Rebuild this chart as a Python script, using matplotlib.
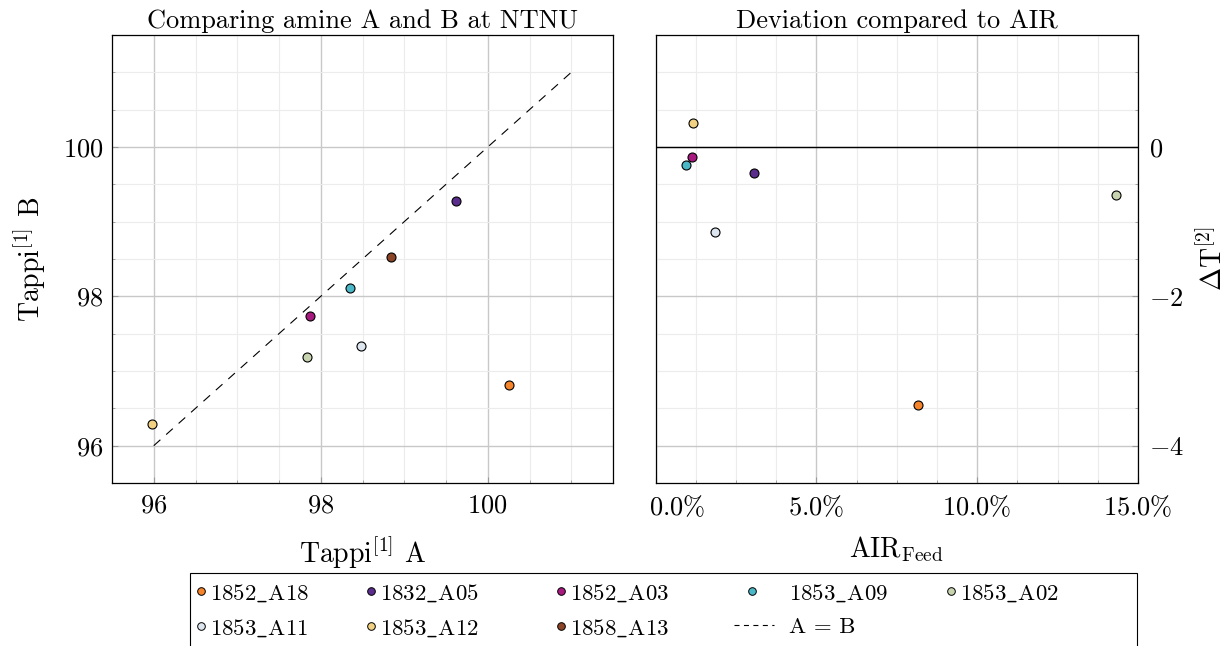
import numpy as np
import matplotlib
matplotlib.use('Agg')
import matplotlib.pyplot as plt
from matplotlib.ticker import MultipleLocator, FuncFormatter, FixedLocator
from matplotlib.lines import Line2D
from matplotlib.patches import Rectangle
from matplotlib.legend_handler import HandlerBase
import matplotlib.transforms as mtransforms

plt.rcParams['font.family'] = ['cmr10']
plt.rcParams['mathtext.fontset'] = 'cm'
plt.rcParams['axes.formatter.use_mathtext'] = True

# ---------------- data ----------------
samples = ['1852_A18', '1832_A05', '1852_A03', '1853_A09', '1853_A02',
           '1853_A11', '1853_A12', '1858_A13']
colors = ['#f5842a', '#5a2d8c', '#a8197f', '#4bb8c8', '#c8d4b0',
          '#dde6ee', '#f2d282', '#8b4426']
tappi_a = [100.25, 99.62, 97.87, 98.35, 97.84, 98.48, 95.98, 98.84]
tappi_b = [96.81, 99.28, 97.74, 98.11, 97.19, 97.33, 96.29, 98.53]
air_feed_pct = [8.17, 3.06, 1.12, 0.95, 14.33, 1.84, 1.18, np.nan]
delta_t = [-3.45, -0.345, -0.13, -0.24, -0.64, -1.14, 0.32, np.nan]
ident_line = [96, 101]
left_ticks = [96, 98, 100]
right_xticks = [0, 5, 10, 15]
right_yticks = [0, -2, -4]

W, H = 1232, 646
fig = plt.figure(figsize=(W / 100, H / 100), dpi=100)
ax1 = fig.add_axes([112 / W, 1 - 483 / H, (613 - 112) / W, (483 - 35) / H])
ax2 = fig.add_axes([655.5 / W, 1 - 483 / H, (1138 - 655.5) / W, (483 - 35) / H])

TICK_FS = 19
TITLE_FS = 19
LABEL_FS = 20
LEG_FS = 16.5

major_grid = dict(color='#c8c8c8', linewidth=1.0)
minor_grid = dict(color='#ececec', linewidth=0.8)

# ---------------- left panel ----------------
handles = []
for s, c, a, b in zip(samples, colors, tappi_a, tappi_b):
    h = ax1.scatter([a], [b], s=42, color=c, edgecolor='black', linewidth=0.8,
                    zorder=3, label=s)
    handles.append(h)
line_h, = ax1.plot(ident_line, ident_line, color='black', lw=0.8,
                   linestyle=(0, (8, 7)), zorder=2, label='A = B')
ax1.set_xlim(95.5, 101.5)
ax1.set_ylim(95.5, 101.5)
ax1.xaxis.set_major_locator(FixedLocator(left_ticks))
ax1.yaxis.set_major_locator(FixedLocator(left_ticks))
ax1.xaxis.set_minor_locator(MultipleLocator(0.5))
ax1.yaxis.set_minor_locator(MultipleLocator(0.5))
ax1.grid(True, which='major', **major_grid)
ax1.grid(True, which='minor', **minor_grid)
ax1.set_axisbelow(True)
ax1.tick_params(which='both', direction='in', labelsize=TICK_FS, color='#999999')
ax1.tick_params(which='major', length=4)
ax1.tick_params(which='minor', length=2)
ax1.tick_params(axis='x', which='major', pad=8)
ax1.tick_params(axis='y', which='major', pad=6)
ax1.set_title('Comparing amine A and B at NTNU', fontsize=TITLE_FS, pad=5)
ax1.set_xlabel(r'Tappi$^{[1]}$ A', fontsize=LABEL_FS)
ax1.set_ylabel(r'Tappi$^{[1]}$ B', fontsize=LABEL_FS)
ax1.xaxis.set_label_coords(0.5, -0.115)
ax1.yaxis.set_label_coords(-0.127, 0.5)

# ---------------- right panel ----------------
for c, x, d in zip(colors, air_feed_pct, delta_t):
    if np.isnan(x):
        continue
    ax2.scatter([x], [d], s=42, color=c, edgecolor='black', linewidth=0.8,
                zorder=3)
ax2.axhline(0, color='black', lw=1.0, zorder=2)
ax2.set_xlim(0, 15)
ax2.set_ylim(-4.5, 1.5)
ax2.xaxis.set_major_locator(FixedLocator(right_xticks))
ax2.yaxis.set_major_locator(FixedLocator(right_yticks))
ax2.xaxis.set_minor_locator(MultipleLocator(1.25))
ax2.yaxis.set_minor_locator(MultipleLocator(0.5))
ax2.xaxis.set_major_formatter(FuncFormatter(lambda v, p: r'$%.1f\%%$' % v))
ax2.yaxis.tick_right()
ax2.yaxis.set_label_position('right')
ax2.grid(True, which='major', **major_grid)
ax2.grid(True, which='minor', **minor_grid)
ax2.set_axisbelow(True)
ax2.tick_params(which='both', direction='in', labelsize=TICK_FS, color='#999999')
ax2.tick_params(which='major', length=4)
ax2.tick_params(which='minor', length=2)
ax2.tick_params(axis='x', which='major', pad=8)
ax2.tick_params(axis='y', which='major', pad=8)
ax2.set_title('Deviation compared to AIR', fontsize=TITLE_FS, pad=5)
ax2.set_xlabel(r'AIR$_{\mathrm{Feed}}$', fontsize=LABEL_FS)
ax2.set_ylabel(r'$\Delta\mathrm{T}^{[2]}$', fontsize=LABEL_FS, rotation=90)
ax2.xaxis.set_label_coords(0.5, -0.115)
ax2.yaxis.set_label_coords(1.124, 0.5)

for ax in (ax1, ax2):
    for sp in ax.spines.values():
        sp.set_color('black')
        sp.set_linewidth(0.9)

# shift first x tick label of right panel like the reference
fig.canvas.draw()
lbl0 = ax2.xaxis.get_major_ticks()[0].label1
lbl0.set_transform(lbl0.get_transform() +
                   mtransforms.ScaledTranslation(0.22, 0, fig.dpi_scale_trans))


# ---------------- legend ----------------
class MarkerHandler(HandlerBase):
    def __init__(self, shift=0.0, **kw):
        super().__init__(**kw)
        self.shift = shift

    def create_artists(self, legend, orig_handle, xdescent, ydescent,
                       width, height, fontsize, trans):
        fc = orig_handle.get_facecolor()[0]
        m = Line2D([width - xdescent - 4.0 - self.shift],
                   [height / 2 - ydescent], marker='o', markersize=5.5,
                   markerfacecolor=fc, markeredgecolor='black',
                   markeredgewidth=0.7, linestyle='none', transform=trans)
        return [m]


class DashHandler(HandlerBase):
    def create_artists(self, legend, orig_handle, xdescent, ydescent,
                       width, height, fontsize, trans):
        y = height / 2 - ydescent
        l = Line2D([width - xdescent - 37, width - xdescent - 8], [y, y],
                   color='black', lw=0.8, linestyle=(0, (4.5, 4)),
                   transform=trans)
        return [l]


def leg_label(s):
    return r'$\mathrm{' + s.replace('_', r'\_') + '}$'


all_h = handles + [line_h]
all_l = [leg_label(s) for s in samples] + ['A = B']
hmap = {h: MarkerHandler() for h in handles}
hmap[handles[3]] = MarkerHandler(shift=20)
hmap[line_h] = DashHandler()

# legend columns (row-major entries as in the reference)
columns = [[0, 5], [1, 6], [2, 7], [3, 8], [4]]
col_x = [194, 364, 554, 773, 944]
for idx, cx in zip(columns, col_x):
    lg = fig.legend([all_h[i] for i in idx], [all_l[i] for i in idx],
                    handler_map=hmap, ncol=1, loc='upper left',
                    bbox_to_anchor=(cx / W, 1 - 582 / H),
                    fontsize=LEG_FS, frameon=False, handlelength=0.55,
                    handletextpad=0.15, labelspacing=0.59, borderpad=0,
                    borderaxespad=0)

frame = Rectangle((190 / W, -0.05), (1137 - 190) / W, 0.05 + (646 - 573) / H,
                  transform=fig.transFigure, facecolor='none',
                  edgecolor='black', linewidth=0.8, clip_on=False)
fig.add_artist(frame)

fig.savefig('out.png', dpi=100)
